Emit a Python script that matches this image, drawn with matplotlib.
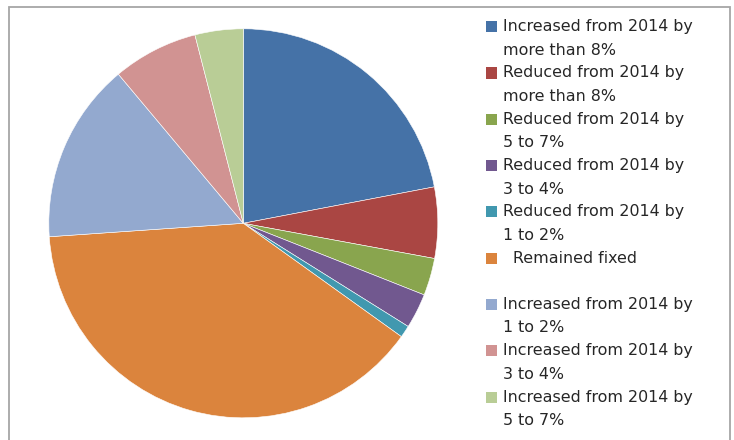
import matplotlib
matplotlib.use("Agg")
import matplotlib.pyplot as plt
from matplotlib.patches import Rectangle

categories = [
    "Increased from 2014 by\nmore than 8%",
    "Reduced from 2014 by\nmore than 8%",
    "Reduced from 2014 by\n5 to 7%",
    "Reduced from 2014 by\n3 to 4%",
    "Reduced from 2014 by\n1 to 2%",
    "  Remained fixed\n",
    "Increased from 2014 by\n1 to 2%",
    "Increased from 2014 by\n3 to 4%",
    "Increased from 2014 by\n5 to 7%",
]
values = [22.0, 5.9, 3.1, 2.9, 1.0, 39.0, 15.0, 7.1, 4.0]
colors = ["#4572A7", "#AA4643", "#89A54E", "#71588F", "#4198AF",
          "#DB843D", "#93A9CF", "#D19392", "#B9CD96"]

W, H = 734, 440
fig = plt.figure(figsize=(W / 100, H / 100), dpi=100)

# outer border
fig.add_artist(Rectangle((9 / W, -0.05), (730 - 9) / W, 1.05 - 7 / H,
                         transform=fig.transFigure, fill=False,
                         edgecolor="#A6A6A6", linewidth=1.3))

cx, cy, r = 243.3, 223.3, 194.5
ax = fig.add_axes([(cx - r) / W, (H - cy - r) / H, 2 * r / W, 2 * r / H])
ax.pie(values, colors=colors, startangle=90, counterclock=False, radius=1,
       wedgeprops=dict(edgecolor="white", linewidth=0.4))
ax.set_xlim(-1, 1)
ax.set_ylim(-1, 1)
ax.set_aspect("auto")
ax.axis("off")

# legend
y0 = 26.7
step = 46.3
line = 23.5
for i, (lab, col) in enumerate(zip(categories, colors)):
    y = y0 + i * step
    fig.add_artist(Rectangle((486 / W, 1 - (y + 5.5) / H), 11 / W, 11 / H,
                             transform=fig.transFigure, facecolor=col,
                             edgecolor="none"))
    for j, t in enumerate(lab.split("\n")):
        if t:
            fig.text(503 / W, 1 - (y + j * line) / H, t, fontsize=11.4,
                     color="#262626", va="center", ha="left",
                     family="DejaVu Sans")

fig.savefig("out.png", dpi=100)
